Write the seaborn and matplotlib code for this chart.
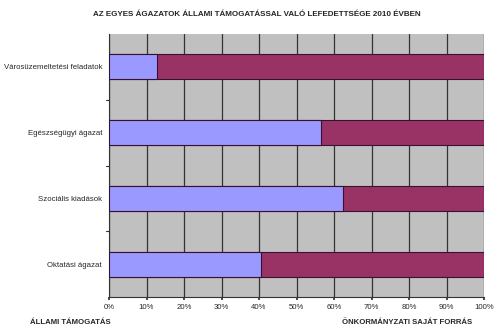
import matplotlib
matplotlib.use("Agg")
import matplotlib.pyplot as plt
import seaborn as sns
import pandas as pd

categories = ["Városüzemeltetési feladatok", "Egészségügyi ágazat", "Szociális kiadások", "Oktatási ágazat"]
allami = [12.8, 56.5, 62.4, 40.5]
sajat = [100 - v for v in allami]
x_ticks = [0, 10, 20, 30, 40, 50, 60, 70, 80, 90, 100]
x_tick_labels = [f"{t}%" for t in x_ticks]

df = pd.DataFrame({"cat": categories, "allami": allami,
                   "total": [a + s for a, s in zip(allami, sajat)]})

sns.set_theme(style="white")
plt.rcParams['font.family'] = ['Liberation Sans', 'DejaVu Sans']

fig = plt.figure(figsize=(5, 3.28), dpi=100)
ax = fig.add_axes([0.218, 0.0945, 0.75, 0.8015])
ax.set_facecolor("#C0C0C0")

sns.barplot(data=df, y="cat", x="total", color="#993366", width=0.38, saturation=1,
            edgecolor="#3a1030", linewidth=0.8, ax=ax, orient="h")
sns.barplot(data=df, y="cat", x="allami", color="#9999FF", width=0.38, saturation=1,
            edgecolor="#3a1030", linewidth=0.8, ax=ax, orient="h")
for p in ax.patches:
    p.set_zorder(3)

ax.set_xlim(0, 100)
ax.set_ylim(3.5, -0.5)
ax.set_xticks(x_ticks)
ax.set_xticklabels(x_tick_labels, fontsize=5.6)
ax.xaxis.grid(True, color="#333333", linewidth=0.9, zorder=1)
ax.set_axisbelow(True)
ax.set_yticks(range(len(categories)))
ax.set_yticklabels(categories, fontsize=5.6)
ax.set_xlabel("")
ax.set_ylabel("")
ax.tick_params(axis="y", length=0, pad=5)
ax.tick_params(axis="x", length=2, color="#333333", direction="out", pad=3, bottom=True)
for y in [0.5, 1.5, 2.5]:
    ax.plot([-0.8, 0], [y, y], color="#333333", lw=0.8, clip_on=False)
for s in ["top", "right"]:
    ax.spines[s].set_visible(False)
ax.spines["left"].set_color("#333333")
ax.spines["bottom"].set_color("#333333")
ax.spines["left"].set_linewidth(0.8)
ax.spines["bottom"].set_linewidth(0.8)

fig.text(0.514, 0.957, "AZ EGYES ÁGAZATOK ÁLLAMI TÁMOGATÁSSAL VALÓ LEFEDETTSÉGE 2010 ÉVBEN",
         ha="center", va="center", fontsize=5.8, fontweight="bold")
fig.text(0.06, 0.018, "ÁLLAMI TÁMOGATÁS", ha="left", va="center", fontsize=5.6, fontweight="bold")
fig.text(0.944, 0.018, "ÖNKORMÁNYZATI SAJÁT FORRÁS", ha="right", va="center", fontsize=5.6, fontweight="bold")

fig.savefig("out.png", dpi=100)
